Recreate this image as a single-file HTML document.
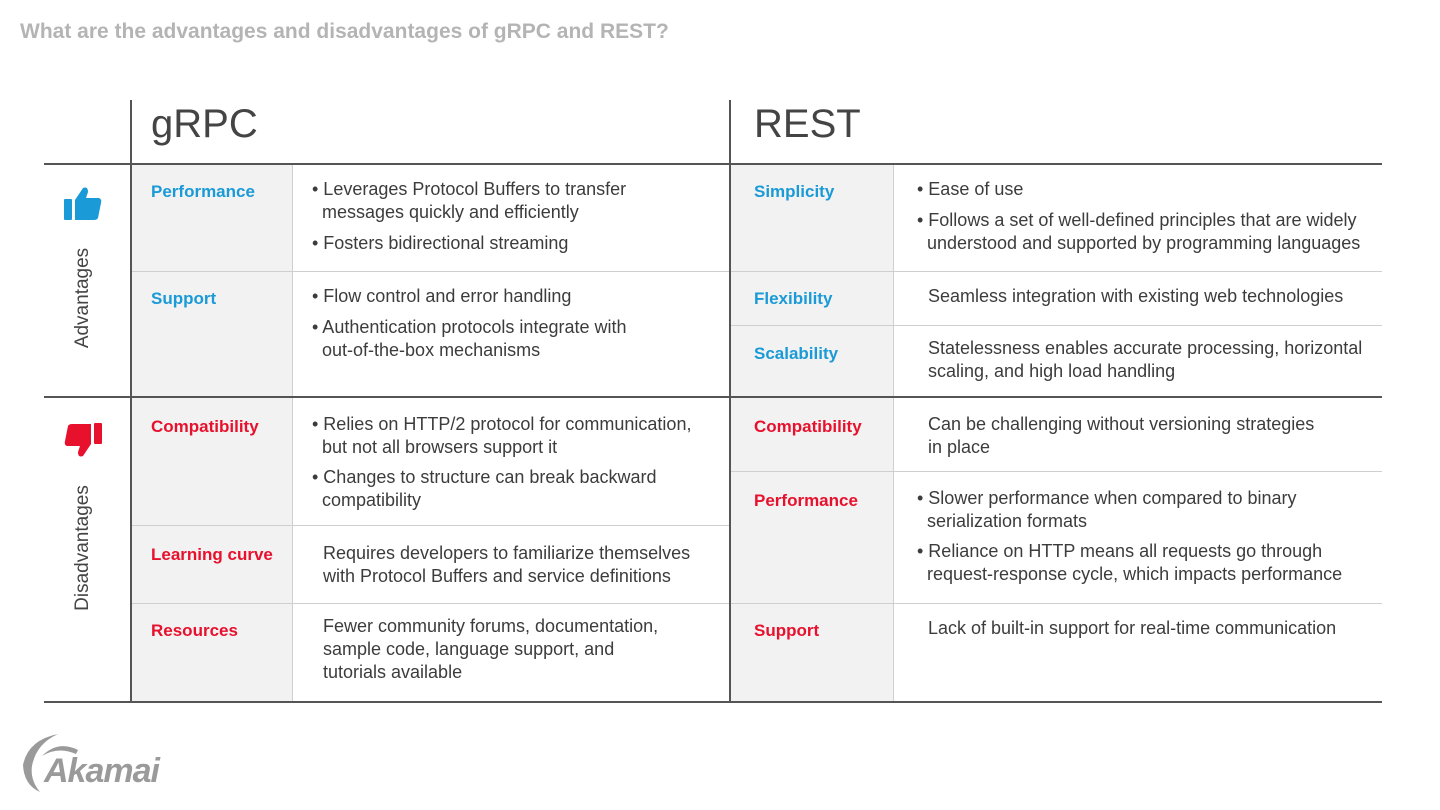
<!DOCTYPE html>
<html><head><meta charset="utf-8"><style>
body{margin:0;width:1440px;height:810px;background:#fff;font-family:"Liberation Sans",Arial,sans-serif;position:relative;overflow:hidden;color:#3c3c3c}
.a{position:absolute}
.t{font-size:18px;line-height:23px;white-space:nowrap}
.b{font-weight:bold;font-size:17px}
.bl{color:#1a9ad6}.rd{color:#e8112d}
.g{background:#f2f2f2}
.hl{background:#555;height:2px}
.tl{background:#cfcfcf;height:1px}
.vl{background:#555;width:2px}
.tv{background:#cfcfcf;width:1px}
</style></head><body>
<div class="a" style="left:20px;top:20px;font-size:21px;color:#a8a8a8;font-weight:bold;opacity:.85">What are the advantages and disadvantages of gRPC and REST?</div>
<div class="a" style="left:151px;top:102px;font-size:40px;color:#444">gRPC</div>
<div class="a" style="left:754px;top:102px;font-size:40px;color:#444">REST</div>
<div class="a g" style="left:131px;top:164px;width:161px;height:538px"></div>
<div class="a g" style="left:730px;top:164px;width:163px;height:538px"></div>
<div class="a tv" style="left:292px;top:164px;height:538px"></div>
<div class="a tv" style="left:893px;top:164px;height:538px"></div>
<div class="a tl" style="left:131px;top:271px;width:1251px"></div>
<div class="a tl" style="left:131px;top:525px;width:599px"></div>
<div class="a tl" style="left:131px;top:603px;width:1251px"></div>
<div class="a tl" style="left:730px;top:325px;width:652px"></div>
<div class="a tl" style="left:730px;top:471px;width:652px"></div>
<div class="a hl" style="left:44px;top:163px;width:1338px"></div>
<div class="a hl" style="left:44px;top:396px;width:1338px"></div>
<div class="a hl" style="left:44px;top:701px;width:1338px"></div>
<div class="a vl" style="left:130px;top:100px;height:603px"></div>
<div class="a vl" style="left:729px;top:100px;height:603px"></div>
<svg class="a" style="left:63px;top:186px" width="40" height="36" viewBox="0 0 40 36"><rect x="1" y="13" width="8" height="21" rx="1" fill="#1a9ad6"/><path d="M12 14 L20 2 Q25 0 25 6 L23 12 H36 Q39 13 38 17 L35 32 Q34 34 31 34 H12Z" fill="#1a9ad6"/></svg>
<svg class="a" style="left:63px;top:422px" width="40" height="36" viewBox="0 0 40 36"><rect x="31" y="1" width="8" height="21" rx="1" fill="#e8112d"/><path d="M28 22 L20 34 Q15 36 15 30 L17 24 H4 Q1 23 2 19 L5 4 Q6 2 9 2 H28Z" fill="#e8112d"/></svg>
<div class="a" style="left:83px;top:298px;transform:translate(-50%,-50%) rotate(-90deg);font-size:19px;color:#444">Advantages</div>
<div class="a" style="left:83px;top:548px;transform:translate(-50%,-50%) rotate(-90deg);font-size:19px;color:#444;white-space:nowrap">Disadvantages</div>
<div class="a b bl" style="left:151px;top:182px">Performance</div>
<div class="a b bl" style="left:151px;top:289px">Support</div>
<div class="a b rd" style="left:151px;top:417px">Compatibility</div>
<div class="a b rd" style="left:151px;top:545px">Learning curve</div>
<div class="a b rd" style="left:151px;top:621px">Resources</div>
<div class="a b bl" style="left:754px;top:182px">Simplicity</div>
<div class="a b bl" style="left:754px;top:289px">Flexibility</div>
<div class="a b bl" style="left:754px;top:344px">Scalability</div>
<div class="a b rd" style="left:754px;top:417px">Compatibility</div>
<div class="a b rd" style="left:754px;top:491px">Performance</div>
<div class="a b rd" style="left:754px;top:621px">Support</div>
<div class="a t" style="left:312px;top:178px">• Leverages Protocol Buffers to transfer<br>&nbsp;&nbsp;messages quickly and efficiently</div>
<div class="a t" style="left:312px;top:232px">• Fosters bidirectional streaming</div>
<div class="a t" style="left:312px;top:285px">• Flow control and error handling</div>
<div class="a t" style="left:312px;top:316px">• Authentication protocols integrate with<br>&nbsp;&nbsp;out-of-the-box mechanisms</div>
<div class="a t" style="left:312px;top:413px">• Relies on HTTP/2 protocol for communication,<br>&nbsp;&nbsp;but not all browsers support it</div>
<div class="a t" style="left:312px;top:466px">• Changes to structure can break backward<br>&nbsp;&nbsp;compatibility</div>
<div class="a t" style="left:323px;top:542px">Requires developers to familiarize themselves<br>with Protocol Buffers and service definitions</div>
<div class="a t" style="left:323px;top:615px">Fewer community forums, documentation,<br>sample code, language support, and<br>tutorials available</div>
<div class="a t" style="left:917px;top:178px">• Ease of use</div>
<div class="a t" style="left:917px;top:209px">• Follows a set of well-defined principles that are widely<br>&nbsp;&nbsp;understood and supported by programming languages</div>
<div class="a t" style="left:928px;top:285px">Seamless integration with existing web technologies</div>
<div class="a t" style="left:928px;top:337px">Statelessness enables accurate processing, horizontal<br>scaling, and high load handling</div>
<div class="a t" style="left:928px;top:413px">Can be challenging without versioning strategies<br>in place</div>
<div class="a t" style="left:917px;top:487px">• Slower performance when compared to binary<br>&nbsp;&nbsp;serialization formats</div>
<div class="a t" style="left:917px;top:540px">• Reliance on HTTP means all requests go through<br>&nbsp;&nbsp;request-response cycle, which impacts performance</div>
<div class="a t" style="left:928px;top:617px">Lack of built-in support for real-time communication</div>
<svg class="a" style="left:18px;top:730px" width="150" height="65" viewBox="0 0 150 65"><path d="M40 4 Q10 10 5 35 Q6 55 22 62 Q12 50 14 36 Q18 14 40 4Z" fill="#9a9a9a"/><path d="M60 20 Q40 10 24 26 Q40 16 58 24Z" fill="#9a9a9a"/></svg>
<div class="a" style="left:44px;top:752px;font-size:34px;font-style:italic;font-weight:bold;color:#9a9a9a;letter-spacing:-1px">Akamai</div>
</body></html>
